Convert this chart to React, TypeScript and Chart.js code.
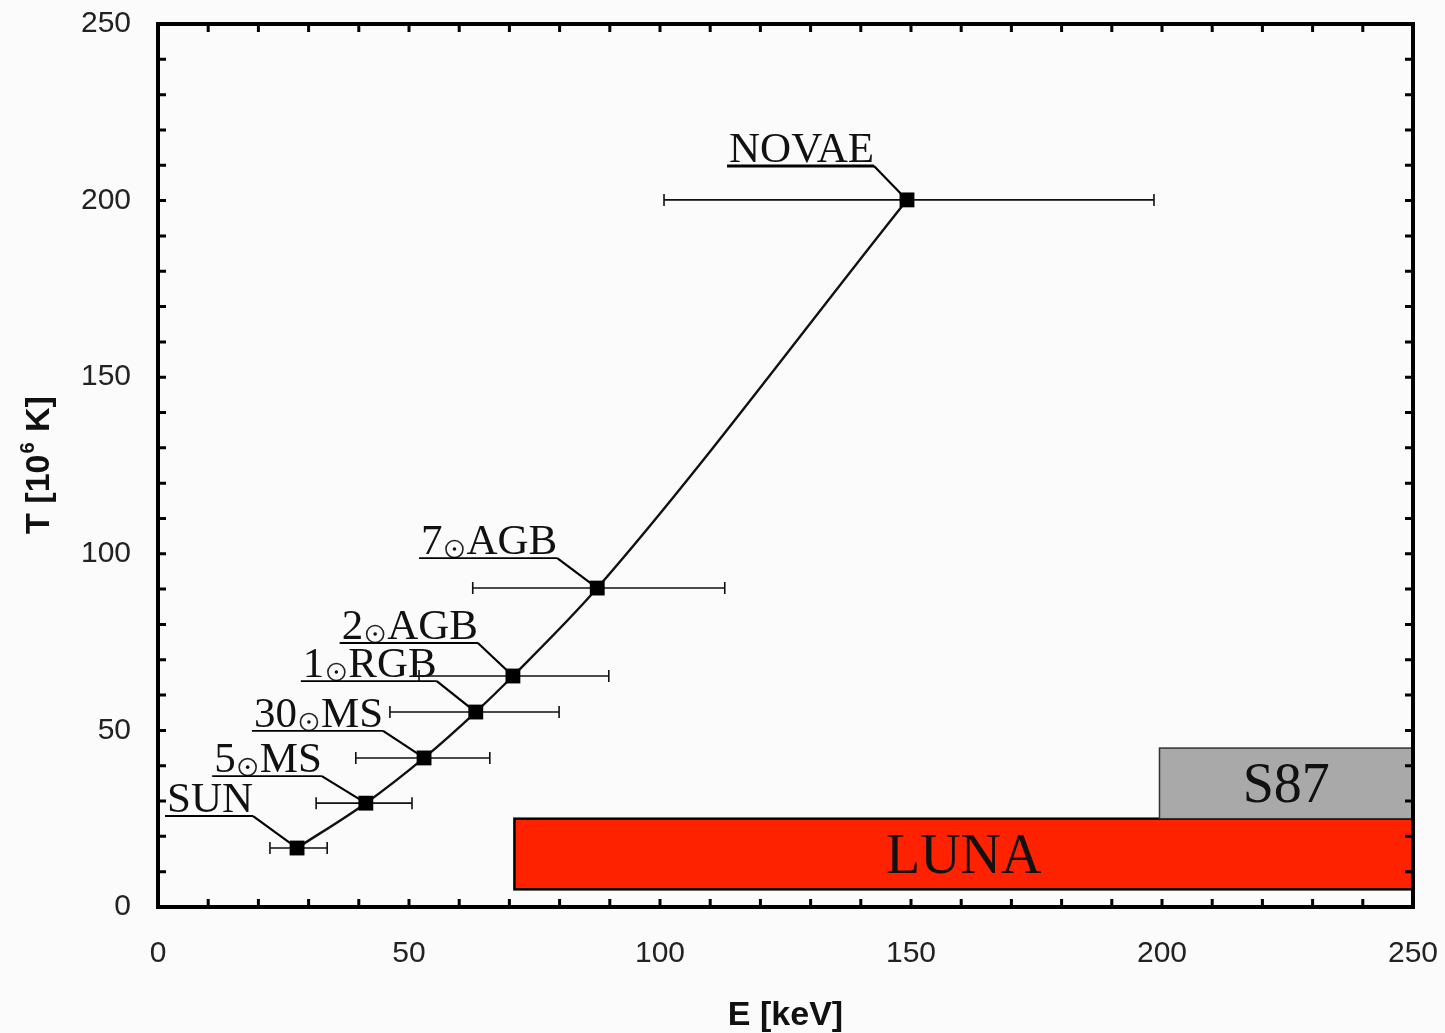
import React, { useEffect, useRef } from "react";
import { Chart, registerables } from "chart.js";

Chart.register(...registerables);

// ---- data ----
const sourceNames = ["SUN", "5⊙MS", "30⊙MS", "1⊙RGB", "2⊙AGB", "7⊙AGB", "NOVAE"];
const energies = [27.7, 41.4, 53.0, 63.3, 70.7, 87.5, 149.2];
const temperatures = [16.7, 29.4, 42.2, 55.2, 65.4, 90.3, 200.2];
const energyLow = [22.3, 31.5, 39.4, 46.2, 52.0, 62.7, 100.8];
const energyHigh = [33.7, 50.6, 66.1, 79.9, 89.8, 112.9, 198.4];

const boxNames = ["LUNA", "S87"];
const boxEStart = [71, 199.5];
const boxEEnd = [250, 250];
const boxTLow = [5, 25];
const boxTHigh = [25, 45];

const xTickLabels = [0, 50, 100, 150, 200, 250];
const yTickLabels = [0, 50, 100, 150, 200, 250];

// ---- layout (pixel offsets of label underline end relative to marker) ----
const labelDx = [-44, -44, -41, -39, -35, -40, -33];
const labelDy = [-32, -27, -27, -31, -33, -30, -34];
const boxFill = ["#ff2200", "#a9a9a9"];

const SERIF = '"Liberation Serif", "Times New Roman", serif';
const SANS = '"Liberation Sans", Arial, sans-serif';

const overlayPlugin = {
  id: "overlay",
  beforeDatasetsDraw(chart: any) {
    const { ctx } = chart;
    const xs = chart.scales.x;
    const ys = chart.scales.y;
    ctx.save();
    // boxes
    for (let i = 0; i < boxNames.length; i++) {
      const x0 = xs.getPixelForValue(boxEStart[i]);
      const x1 = xs.getPixelForValue(boxEEnd[i]);
      const y0 = ys.getPixelForValue(boxTHigh[i]);
      const y1 = ys.getPixelForValue(boxTLow[i]);
      ctx.fillStyle = boxFill[i];
      ctx.fillRect(x0, y0, x1 - x0, y1 - y0);
      ctx.strokeStyle = i === 0 ? "#000" : "#333";
      ctx.lineWidth = i === 0 ? 2.5 : 1.5;
      ctx.strokeRect(x0, y0, x1 - x0, y1 - y0);
    }
    for (let i = 0; i < boxNames.length; i++) {
      const x0 = xs.getPixelForValue(boxEStart[i]);
      const x1 = xs.getPixelForValue(boxEEnd[i]);
      const y0 = ys.getPixelForValue(boxTHigh[i]);
      const y1 = ys.getPixelForValue(boxTLow[i]);
      ctx.fillStyle = "#111";
      ctx.font = `56px ${SERIF}`;
      ctx.textAlign = "center";
      ctx.textBaseline = "alphabetic";
      ctx.fillText(boxNames[i], (x0 + x1) / 2, (y0 + y1) / 2 + 19);
    }
    // error bars
    ctx.strokeStyle = "#111";
    ctx.lineWidth = 1.6;
    for (let i = 0; i < energies.length; i++) {
      const y = ys.getPixelForValue(temperatures[i]);
      const xl = xs.getPixelForValue(energyLow[i]);
      const xh = xs.getPixelForValue(energyHigh[i]);
      ctx.beginPath();
      ctx.moveTo(xl, y);
      ctx.lineTo(xh, y);
      ctx.moveTo(xl, y - 6);
      ctx.lineTo(xl, y + 6);
      ctx.moveTo(xh, y - 6);
      ctx.lineTo(xh, y + 6);
      ctx.stroke();
    }
    ctx.restore();
  },
  afterDatasetsDraw(chart: any) {
    const { ctx, chartArea } = chart;
    const xs = chart.scales.x;
    const ys = chart.scales.y;
    ctx.save();
    // labels with leaders
    ctx.font = `43px ${SERIF}`;
    ctx.textBaseline = "alphabetic";
    ctx.textAlign = "left";
    for (let i = 0; i < sourceNames.length; i++) {
      const px = xs.getPixelForValue(energies[i]);
      const py = ys.getPixelForValue(temperatures[i]);
      const right = px + labelDx[i];
      const uy = py + labelDy[i];
      const parts = sourceNames[i].split("⊙");
      const circW = 24;
      let total = ctx.measureText(parts[0]).width;
      if (parts.length > 1) total += circW + ctx.measureText(parts[1]).width;
      const left = right - total;
      const base = uy - 4;
      ctx.fillStyle = "#111";
      let cx = left;
      ctx.fillText(parts[0], cx, base);
      cx += ctx.measureText(parts[0]).width;
      if (parts.length > 1) {
        const ccx = cx + circW / 2;
        const ccy = uy - 9;
        ctx.strokeStyle = "#222";
        ctx.lineWidth = 1.6;
        ctx.beginPath();
        ctx.arc(ccx, ccy, 8.5, 0, Math.PI * 2);
        ctx.stroke();
        ctx.beginPath();
        ctx.arc(ccx, ccy, 1.8, 0, Math.PI * 2);
        ctx.fill();
        cx += circW;
        ctx.fillText(parts[1], cx, base);
      }
      ctx.strokeStyle = "#000";
      ctx.lineWidth = i === sourceNames.length - 1 ? 3 : 1.8;
      ctx.beginPath();
      ctx.moveTo(left - 2, uy);
      ctx.lineTo(right, uy);
      ctx.stroke();
      ctx.lineWidth = 2.2;
      ctx.beginPath();
      ctx.moveTo(right, uy);
      ctx.lineTo(px, py);
      ctx.stroke();
    }
    // frame & inward ticks
    const { left, right, top, bottom } = chartArea;
    ctx.strokeStyle = "#000";
    ctx.lineWidth = 3;
    for (let v = 10; v < 250; v += 10) {
      const x = xs.getPixelForValue(v);
      const y = ys.getPixelForValue(v);
      ctx.beginPath();
      ctx.moveTo(x, bottom);
      ctx.lineTo(x, bottom - 8);
      ctx.moveTo(x, top);
      ctx.lineTo(x, top + 8);
      ctx.moveTo(left, y);
      ctx.lineTo(left + 8, y);
      ctx.moveTo(right, y);
      ctx.lineTo(right - 8, y);
      ctx.stroke();
    }
    ctx.lineWidth = 4;
    ctx.strokeRect(left, top, right - left, bottom - top);
    ctx.restore();
  },
  afterDraw(chart: any) {
    const { ctx, chartArea } = chart;
    ctx.save();
    ctx.fillStyle = "#111";
    ctx.font = `bold 34px ${SANS}`;
    ctx.textAlign = "center";
    ctx.textBaseline = "middle";
    ctx.fillText("E [keV]", (chartArea.left + chartArea.right) / 2, 1016);
    // y title rotated with superscript
    ctx.translate(40, 465);
    ctx.rotate(-Math.PI / 2);
    ctx.textAlign = "left";
    const a = "T [10";
    const b = "6";
    const c = " K]";
    ctx.font = `bold 34px ${SANS}`;
    const wa = ctx.measureText(a).width;
    const wc = ctx.measureText(c).width;
    ctx.font = `bold 20px ${SANS}`;
    const wb = ctx.measureText(b).width;
    const total = wa + wb + 2 + wc;
    let x = -total / 2;
    ctx.font = `bold 34px ${SANS}`;
    ctx.fillText(a, x, 0);
    x += wa + 1;
    ctx.font = `bold 20px ${SANS}`;
    ctx.fillText(b, x, -12);
    x += wb + 1;
    ctx.font = `bold 34px ${SANS}`;
    ctx.fillText(c, x, 0);
    ctx.restore();
  },
};

export default function App() {
  const ref = useRef<HTMLCanvasElement | null>(null);
  useEffect(() => {
    document.body.style.margin = "0";
    const canvas = ref.current!;
    const chart = new Chart(canvas, {
      type: "line",
      data: {
        datasets: [
          {
            data: energies.map((e, i) => ({ x: e, y: temperatures[i] })),
            borderColor: "#111",
            borderWidth: 2.4,
            backgroundColor: "#000",
            pointStyle: "rect",
            pointRadius: 10.5,
            pointBorderWidth: 0,
            cubicInterpolationMode: "monotone",
          },
        ],
      },
      options: {
        responsive: false,
        animation: false,
        layout: { padding: { left: 0, right: 32, top: 24, bottom: 0 } },
        plugins: { legend: { display: false }, tooltip: { enabled: false } },
        scales: {
          x: {
            type: "linear",
            min: 0,
            max: 250,
            afterFit: (s: any) => {
              s.height = 126;
              s.paddingLeft = 0;
              s.paddingRight = 0;
            },
            grid: { display: false, drawTicks: false },
            border: { display: false },
            ticks: {
              stepSize: 10,
              autoSkip: false,
              maxRotation: 0,
              padding: 29,
              color: "#222",
              font: { family: SANS, size: 30 },
              callback: (v: any) => (xTickLabels.includes(v) ? String(v) : ""),
            },
          },
          y: {
            type: "linear",
            min: 0,
            max: 250,
            afterFit: (s: any) => {
              s.width = 158;
              s.paddingTop = 0;
              s.paddingBottom = 0;
            },
            grid: { display: false, drawTicks: false },
            border: { display: false },
            ticks: {
              stepSize: 10,
              autoSkip: false,
              padding: 27,
              color: "#222",
              font: { family: SANS, size: 30 },
              callback: (v: any) => (yTickLabels.includes(v) ? String(v) : ""),
            },
          },
        },
      },
      plugins: [overlayPlugin],
    });
    return () => chart.destroy();
  }, []);
  return (
    <div
      style={{
        position: "absolute",
        left: 0,
        top: 0,
        width: 1445,
        height: 1033,
        background: "#fbfbfb",
      }}
    >
      <canvas ref={ref} width={1445} height={1033} />
    </div>
  );
}
